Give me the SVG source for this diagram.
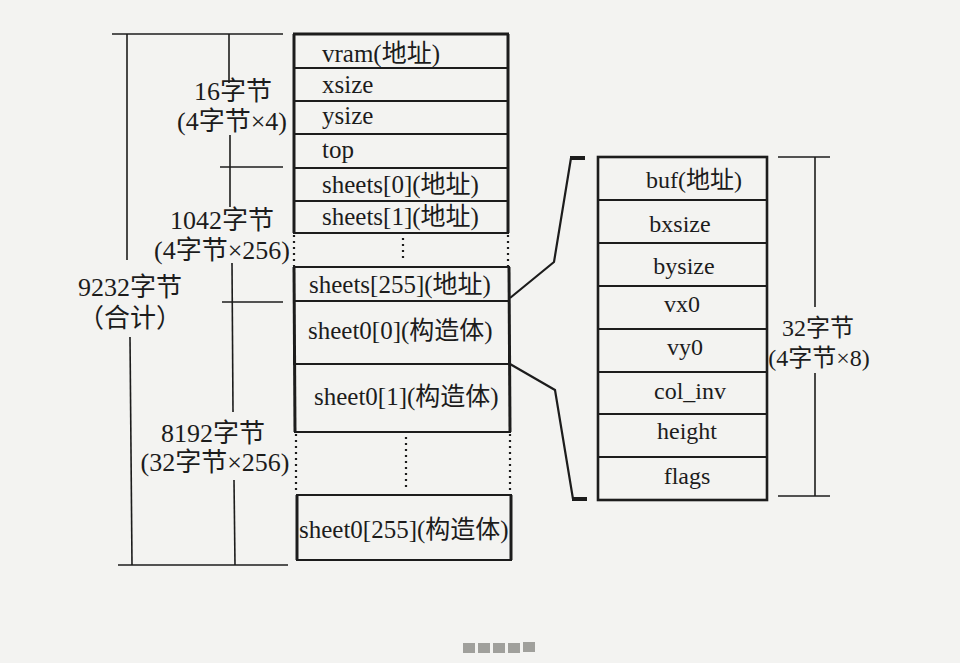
<svg xmlns="http://www.w3.org/2000/svg" width="960" height="663" viewBox="0 0 960 663">
<style>
.t{font-family:"Liberation Serif","Noto Sans CJK SC",serif;fill:#1c1c1c}
.m{font-size:25px}
.r{font-size:24px;text-anchor:middle}
.d{font-size:24px;text-anchor:middle}
.dl{font-size:26px;text-anchor:middle}
.ln{stroke:#1c1c1c;stroke-width:1.6;fill:none}
.box{stroke:#1c1c1c;stroke-width:2;fill:none}
.side{stroke:#1c1c1c;stroke-width:3;fill:none}
.dot{stroke:#1c1c1c;stroke-width:2.2;stroke-dasharray:2 4;fill:none}
.con{stroke:#1c1c1c;stroke-width:2.2;fill:none;stroke-linejoin:miter}
.cap{stroke:#1c1c1c;stroke-width:4;fill:none}
</style>
<rect width="960" height="663" fill="#f3f3f1"/>

<g id="dim-left">
<line class="ln" x1="112" y1="34" x2="283" y2="34"/>
<line class="ln" x1="127" y1="34" x2="127" y2="260"/>
<line class="ln" x1="130" y1="337" x2="132" y2="565"/>
<line class="ln" x1="229" y1="34" x2="229" y2="83"/>
<line class="ln" x1="230" y1="135" x2="230" y2="207"/>
<line class="ln" x1="220" y1="167" x2="283" y2="167"/>
<line class="ln" x1="232" y1="263" x2="233" y2="412"/>
<line class="ln" x1="222" y1="302" x2="283" y2="302"/>
<line class="ln" x1="234" y1="480" x2="235" y2="565"/>
<line class="ln" x1="118" y1="565" x2="288" y2="565"/>
<text class="t dl" x="233" y="100">16字节</text>
<text class="t dl" x="232" y="130">(4字节×4)</text>
<text class="t dl" x="222" y="229">1042字节</text>
<text class="t dl" x="222" y="259">(4字节×256)</text>
<text class="t dl" x="130" y="296">9232字节</text>
<text class="t dl" x="130" y="327">（合计）</text>
<text class="t dl" x="213" y="442">8192字节</text>
<text class="t dl" x="215" y="471">(32字节×256)</text>
</g>

<g id="mem-table">
<g id="row-vram"><rect class="box" x="294" y="34" width="214" height="34"/><text class="t m" x="322" y="62">vram(地址)</text></g>
<g id="row-xsize"><rect class="box" x="294" y="68" width="214" height="33"/><text class="t m" x="322" y="93">xsize</text></g>
<g id="row-ysize"><rect class="box" x="294" y="101" width="214" height="33"/><text class="t m" x="322" y="124">ysize</text></g>
<g id="row-top"><rect class="box" x="294" y="134" width="214" height="34"/><text class="t m" x="322" y="158">top</text></g>
<g id="row-sheets0"><rect class="box" x="294" y="168" width="214" height="33"/><text class="t m" x="322" y="193">sheets[0](地址)</text></g>
<g id="row-sheets1"><rect class="box" x="294" y="201" width="214" height="32"/><text class="t m" x="322" y="225">sheets[1](地址)</text></g>
<g id="row-gap1">
<line class="dot" x1="294" y1="235" x2="294" y2="266"/>
<line class="dot" x1="508" y1="235" x2="508" y2="266"/>
<line class="dot" x1="403" y1="238" x2="403" y2="262"/>
</g>
<g id="row-sheets255"><rect class="box" x="294" y="267" width="215" height="34"/><text class="t m" x="309" y="293">sheets[255](地址)</text></g>
<g id="row-sheet0-0"><rect class="box" x="294" y="301" width="215" height="63"/><text class="t m" x="308" y="339">sheet0[0](构造体)</text></g>
<g id="row-sheet0-1"><rect class="box" x="295" y="364" width="215" height="68"/><text class="t m" x="314" y="405">sheet0[1](构造体)</text></g>
<g id="row-gap2">
<line class="dot" x1="296" y1="434" x2="296" y2="494"/>
<line class="dot" x1="510" y1="434" x2="510" y2="494"/>
<line class="dot" x1="406" y1="437" x2="406" y2="490"/>
</g>
<g id="row-sheet0-255"><rect class="box" x="297" y="495" width="214" height="65"/><text class="t m" x="299" y="538">sheet0[255](构造体)</text></g>
<line class="side" x1="294" y1="34" x2="294" y2="233"/>
<line class="side" x1="508" y1="34" x2="508" y2="233"/>
<line class="side" x1="294" y1="267" x2="295" y2="432"/>
<line class="side" x1="509" y1="267" x2="510" y2="432"/>
<line class="side" x1="297" y1="495" x2="297" y2="560"/>
<line class="side" x1="511" y1="495" x2="511" y2="560"/>
<line class="side" x1="293" y1="34" x2="509" y2="34"/>
</g>

<g id="connectors">
<polyline class="con" points="510,298 554,262 571,158"/>
<line class="cap" x1="570" y1="158" x2="585" y2="158"/>
<polyline class="con" points="510,364 555,390 573,499"/>
<line class="cap" x1="572" y1="499" x2="587" y2="499"/>
</g>

<g id="struct-table">
<g id="f-buf"><rect class="box" x="598" y="157" width="169" height="43"/><text class="t r" x="694" y="188">buf(地址)</text></g>
<g id="f-bxsize"><rect class="box" x="598" y="200" width="169" height="43"/><text class="t r" x="680" y="232">bxsize</text></g>
<g id="f-bysize"><rect class="box" x="598" y="243" width="169" height="43"/><text class="t r" x="684" y="274">bysize</text></g>
<g id="f-vx0"><rect class="box" x="598" y="286" width="169" height="43"/><text class="t r" x="682" y="312">vx0</text></g>
<g id="f-vy0"><rect class="box" x="598" y="329" width="169" height="43"/><text class="t r" x="685" y="355">vy0</text></g>
<g id="f-colinv"><rect class="box" x="598" y="372" width="169" height="42"/><text class="t r" x="690" y="399">col_inv</text></g>
<g id="f-height"><rect class="box" x="598" y="414" width="169" height="43"/><text class="t r" x="687" y="439">height</text></g>
<g id="f-flags"><rect class="box" x="598" y="457" width="169" height="43"/><text class="t r" x="687" y="484">flags</text></g>
<rect x="598" y="157" width="169" height="343" fill="none" stroke="#1c1c1c" stroke-width="2.6"/>
</g>

<g id="dim-right">
<line class="ln" x1="778" y1="157" x2="830" y2="157"/>
<line class="ln" x1="815" y1="157" x2="815" y2="307"/>
<line class="ln" x1="815" y1="373" x2="815" y2="496"/>
<line class="ln" x1="778" y1="496" x2="830" y2="496"/>
<text class="t d" x="818" y="336">32字节</text>
<text class="t d" x="819" y="366">(4字节×8)</text>
</g>

<g id="footer">
<rect x="463" y="643" width="12" height="10" fill="#a0a09c"/>
<rect x="478" y="643" width="12" height="10" fill="#a0a09c"/>
<rect x="493" y="643" width="12" height="10" fill="#a0a09c"/>
<rect x="508" y="643" width="12" height="10" fill="#a0a09c"/>
<rect x="523" y="642" width="12" height="10" fill="#a0a09c"/>
</g>
</svg>
